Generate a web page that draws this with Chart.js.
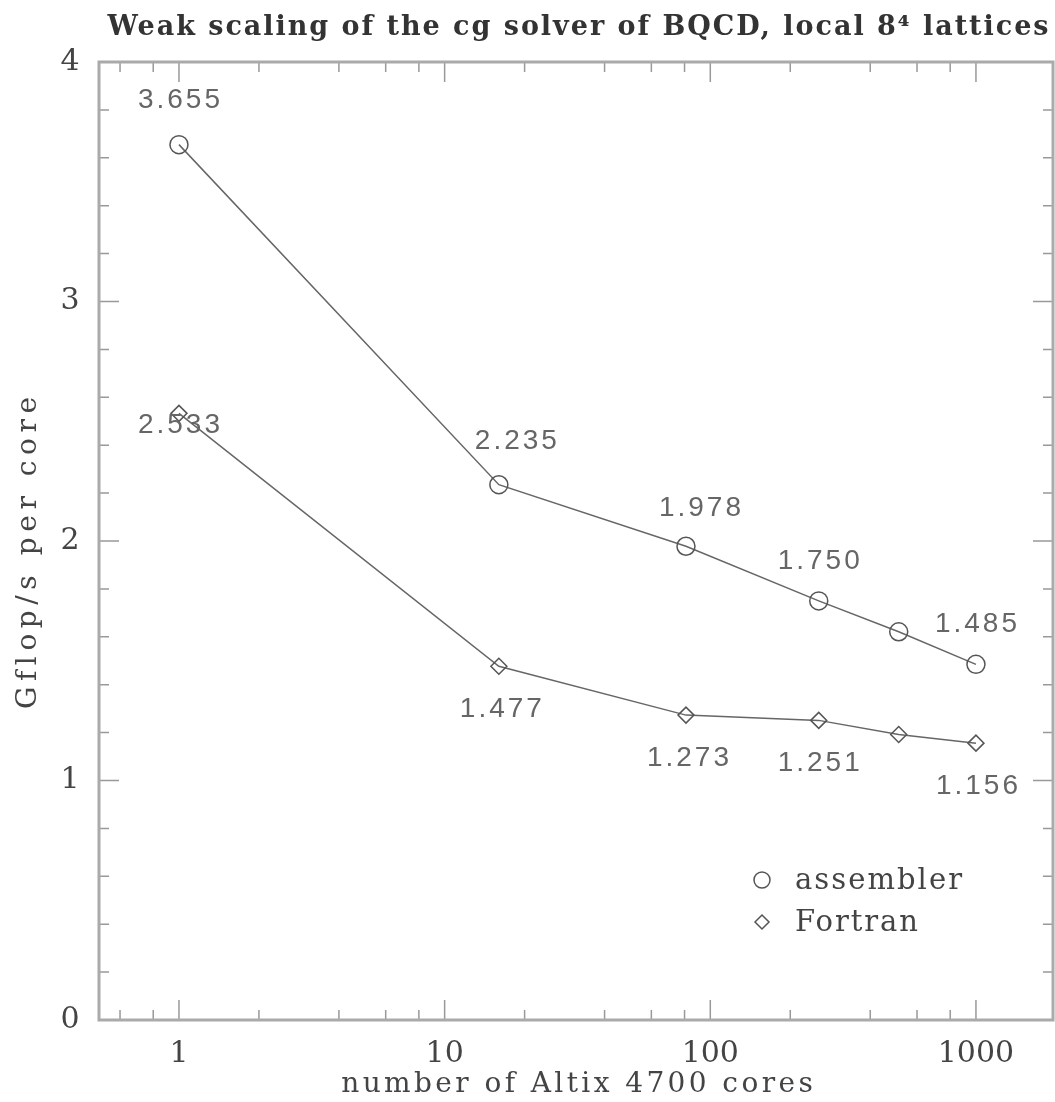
<!DOCTYPE html>
<html>
<head>
<meta charset="utf-8">
<script src="https://cdn.jsdelivr.net/npm/chart.js"></script>
<style>
  html, body { margin: 0; padding: 0; background: #fff; }
  #wrap { width: 1055px; height: 1102px; position: relative; }
</style>
</head>
<body>
<div id="wrap"><canvas id="chart"></canvas></div>
<script>
// data
const cores = [1, 16, 81, 256, 512, 1000];
const assembler = [3.655, 2.235, 1.978, 1.750, 1.621, 1.485];
const fortran = [2.533, 1.477, 1.273, 1.251, 1.192, 1.156];
const assemblerLabels = ['3.655', '2.235', '1.978', '1.750', '', '1.485'];
const fortranLabels = ['2.533', '1.477', '1.273', '1.251', '', '1.156'];
const xTickLabels = ['1', '10', '100', '1000'];
const yTickLabels = ['0', '1', '2', '3', '4'];

const titleText = 'Weak scaling of the cg solver of BQCD, local 8\u2074 lattices';
const xTitle = 'number of Altix 4700 cores';
const yTitle = 'Gflop/s per core';

// where each value label sits relative to its point
const assemblerShift = [[0, -44], [17, -43], [14, -38], [0, -40], null, [0, -40]];
const fortranShift = [[0, 12], [2, 43], [2, 43], [0, 43], null, [1, 43]];

const serif = '"DejaVu Serif", "Liberation Serif", serif';
const sans = '"Liberation Sans", Arial, sans-serif';

// draw centred text stretched to a given width (the reference fonts are wide)
function fitText(ctx, text, x, y, width) {
    ctx.letterSpacing = '0px';
    const w = ctx.measureText(text).width;
    const ls = (width - w) / text.length;
    ctx.letterSpacing = ls + 'px';
    ctx.fillText(text, x + ls / 2, y);
    ctx.letterSpacing = '0px';
}

function fitTextLeft(ctx, text, x, y, width) {
    ctx.letterSpacing = '0px';
    const w = ctx.measureText(text).width;
    ctx.letterSpacing = ((width - w) / (text.length - 1)) + 'px';
    ctx.fillText(text, x, y);
    ctx.letterSpacing = '0px';
}

// Frame, inward ticks, axis texts
const framePlugin = {
    id: 'frame',
    beforeDatasetsDraw(chart) {
        const ctx = chart.ctx;
        const a = chart.chartArea;
        const xs = chart.scales.x;
        const ys = chart.scales.y;
        ctx.save();

        // ticks
        ctx.strokeStyle = '#999';
        ctx.lineWidth = 1.5;
        xs.ticks.forEach(t => {
            const px = xs.getPixelForValue(t.value);
            if (px <= a.left + 2 || px >= a.right - 2) return;
            const lg = Math.log10(t.value);
            const len = Math.abs(lg - Math.round(lg)) < 1e-6 ? 20 : 10;
            ctx.beginPath();
            ctx.moveTo(px, a.bottom); ctx.lineTo(px, a.bottom - len);
            ctx.moveTo(px, a.top); ctx.lineTo(px, a.top + len);
            ctx.stroke();
        });
        ys.ticks.forEach(t => {
            const py = ys.getPixelForValue(t.value);
            if (py <= a.top + 2 || py >= a.bottom - 2) return;
            const len = Math.abs(t.value - Math.round(t.value)) < 1e-6 ? 20 : 10;
            ctx.beginPath();
            ctx.moveTo(a.left, py); ctx.lineTo(a.left + len, py);
            ctx.moveTo(a.right, py); ctx.lineTo(a.right - len, py);
            ctx.stroke();
        });

        // box
        ctx.strokeStyle = '#aaa';
        ctx.lineWidth = 3;
        ctx.strokeRect(a.left, a.top, a.right - a.left, a.bottom - a.top);

        // tick labels
        ctx.fillStyle = '#444';
        ctx.font = '30px ' + serif;
        ctx.textAlign = 'center';
        ctx.textBaseline = 'middle';
        xTickLabels.forEach(l => {
            ctx.fillText(l, xs.getPixelForValue(Number(l)), a.bottom + 34);
        });
        yTickLabels.forEach(l => {
            ctx.fillText(l, a.left - 29, ys.getPixelForValue(Number(l)));
        });

        // axis titles
        ctx.font = '28px ' + serif;
        fitText(ctx, xTitle, 577, a.bottom + 65, 475);
        ctx.save();
        ctx.translate(29, 553);
        ctx.rotate(-Math.PI / 2);
        fitText(ctx, yTitle, 0, 0, 317);
        ctx.restore();

        // title
        ctx.fillStyle = '#333';
        ctx.font = 'bold 27px ' + serif;
        fitText(ctx, titleText, 578, 28, 943);
        ctx.restore();
    },
    afterDatasetsDraw(chart) {
        const ctx = chart.ctx;
        ctx.save();
        ctx.fillStyle = '#666';
        ctx.font = '28px ' + sans;
        ctx.textAlign = 'center';
        ctx.textBaseline = 'middle';
        [[0, assemblerLabels, assemblerShift], [1, fortranLabels, fortranShift]].forEach(([di, labels, shift]) => {
            chart.getDatasetMeta(di).data.forEach((pt, i) => {
                if (!labels[i]) return;
                fitText(ctx, labels[i], pt.x + shift[i][0], pt.y + shift[i][1], 85);
            });
        });

        // legend
        const lx = 762, ly = [880, 922], lw = [167, 123];
        ctx.textAlign = 'left';
        ctx.font = '29px ' + serif;
        chart.data.datasets.forEach((ds, i) => {
            ctx.strokeStyle = '#555';
            ctx.fillStyle = 'rgba(0,0,0,0)';
            ctx.lineWidth = 1.5;
            Chart.helpers.drawPoint(ctx, {
                pointStyle: ds.pointStyle,
                radius: ds.pointStyle === 'circle' ? 8 : 7,
                rotation: 0,
                borderWidth: 1.5
            }, lx, ly[i]);
            ctx.fillStyle = '#444';
            fitTextLeft(ctx, ds.label, lx + 33, ly[i] + 1, lw[i]);
        });
        ctx.restore();
    }
};

new Chart(document.getElementById('chart'), {
    type: 'scatter',
    data: {
        datasets: [
            {
                label: 'assembler',
                data: cores.map((c, i) => ({ x: c, y: assembler[i] })),
                showLine: true,
                borderColor: '#666',
                borderWidth: 1.5,
                pointStyle: 'circle',
                pointRadius: 9,
                pointBorderWidth: 1.5,
                pointBorderColor: '#555',
                pointBackgroundColor: 'rgba(0,0,0,0)'
            },
            {
                label: 'Fortran',
                data: cores.map((c, i) => ({ x: c, y: fortran[i] })),
                showLine: true,
                borderColor: '#666',
                borderWidth: 1.5,
                pointStyle: 'rectRot',
                pointRadius: 8,
                pointBorderWidth: 1.5,
                pointBorderColor: '#555',
                pointBackgroundColor: 'rgba(0,0,0,0)'
            }
        ]
    },
    options: {
        responsive: true,
        maintainAspectRatio: false,
        animation: false,
        layout: { autoPadding: false, padding: { left: 99, top: 62, right: 2, bottom: 82 } },
        plugins: {
            legend: { display: false },
            tooltip: { enabled: false }
        },
        scales: {
            x: { type: 'logarithmic', min: 0.5, max: 1950, display: false },
            y: { type: 'linear', min: 0, max: 4, display: false, ticks: { stepSize: 0.2 } }
        }
    },
    plugins: [framePlugin]
});
</script>
</body>
</html>
